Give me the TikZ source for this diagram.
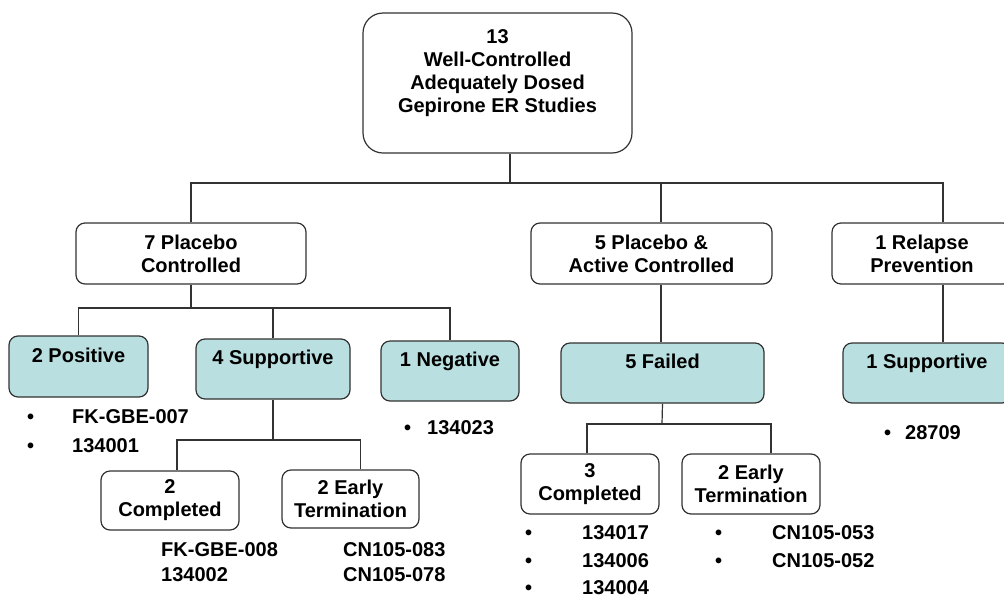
\documentclass[tikz,border=0pt]{standalone}
\usepackage{fontspec}
\setmainfont{Liberation Sans}
\definecolor{tealfill}{RGB}{185,223,224}
\definecolor{edge}{RGB}{50,50,50}
\newcommand{\itm}[2]{\makebox[#1][l]{\textbullet}#2}

\begin{document}
\begin{tikzpicture}[x=1pt,y=-1pt,
  box/.style={draw=edge, line width=1.2pt, rounded corners=9pt, fill=white, align=center, inner sep=0pt, font=\fontsize{20}{23}\selectfont\bfseries},
  shaded/.style={box, fill=tealfill},
  item/.style={anchor=west, inner sep=0pt, font=\fontsize{20}{23}\selectfont\bfseries},
  link/.style={draw=edge, line width=1.2pt}]
  \useasboundingbox (0,0) rectangle (1004,598);
  \clip (0,0) rectangle (1004,598);

  % top
  \node[box, rounded corners=20pt, minimum width=269pt, minimum height=140pt] (root) at (497.5,83) {13\\Well-Controlled\\Adequately Dosed\\Gepirone ER Studies\\ ~};

  % first level
  \node[box, minimum width=230pt, minimum height=61pt] (pc) at (191,253.5) {7 Placebo\\Controlled};
  \node[box, minimum width=241pt, minimum height=61pt] (pac) at (651.5,253.5) {5 Placebo \&\\Active Controlled};
  \node[box, minimum width=180pt, minimum height=61pt] (rp) at (922,253.5) {1 Relapse\\Prevention};

  % outcomes
  \node[shaded, minimum width=139pt, minimum height=61pt] (pos) at (78.5,366.5) {2 Positive\\ ~};
  \node[shaded, minimum width=154pt, minimum height=60pt] (sup) at (273,369) {4 Supportive\\ ~};
  \node[shaded, minimum width=138pt, minimum height=60pt] (neg) at (450,371) {1 Negative\\ ~};
  \node[shaded, minimum width=203pt, minimum height=60pt] (fail) at (662.5,373) {5 Failed\\ ~};
  \node[shaded, minimum width=168pt, minimum height=60pt] (sup1) at (927,373) {1 Supportive\\ ~};

  % completed / early termination
  \node[box, minimum width=138pt, minimum height=59pt] (comp1) at (170,500.5) {2\\Completed};
  \node[box, minimum width=137pt, minimum height=58pt] (early1) at (350.5,499) {2 Early\\Termination};
  \node[box, minimum width=138pt, minimum height=60pt] (comp2) at (590,484) {3\\Completed};
  \node[box, minimum width=138pt, minimum height=60pt] (early2) at (751,484) {2 Early\\Termination};

  % junctions
  \coordinate (j0) at (510,183);
  \coordinate (c2) at (661,183);
  \coordinate (c3) at (943,183);
  \coordinate (j1) at (192,308);
  \coordinate (j2) at (273,440);
  \coordinate (j3) at (662,424);

  \draw[link] (root.south -| j0) -- (j0);
  \draw[link] (pc.north) |- (c3) -- (c3 |- rp.north);
  \draw[link] (c2) -- (c2 |- pac.north);
  \draw[link] (c2 |- pac.south) -- (c2 |- fail.north);
  \draw[link] (c3 |- rp.south) -- (c3 |- sup1.north);

  \draw[link] (pc.south) -- (pc.south |- j1);
  \draw[link] (pos.north) |- (neg.north |- j1) -- (neg.north);
  \draw[link] (sup.north) -- (sup.north |- j1);
  \draw[link] (sup.south) -- (j2);
  \draw[link] ([xshift=7pt]comp1.north) |- ([xshift=10pt]early1.north |- j2) -- ([xshift=10pt]early1.north);
  \draw[link] (fail.south) -- (j3);
  \draw[link] ([xshift=-3pt]comp2.north) |- ([xshift=20pt]early2.north |- j3) -- ([xshift=20pt]early2.north);

  % study lists
  \node[item] (pos-a) at (27,417) {\itm{45pt}{FK-GBE-007}};
  \node[item] (pos-b) at (27,446) {\itm{45pt}{134001}};
  \node[item] (neg-a) at (404,428) {\itm{23pt}{134023}};
  \node[item] (comp1-a) at (161,550) {FK-GBE-008};
  \node[item] (comp1-b) at (161,575) {134002};
  \node[item] (early1-a) at (343,550) {CN105-083};
  \node[item] (early1-b) at (343,575) {CN105-078};
  \node[item] (comp2-a) at (525,533) {\itm{57pt}{134017}};
  \node[item] (comp2-b) at (525,561) {\itm{57pt}{134006}};
  \node[item] (comp2-c) at (525,588) {\itm{57pt}{134004}};
  \node[item] (early2-a) at (715,533) {\itm{57pt}{CN105-053}};
  \node[item] (early2-b) at (715,561) {\itm{57pt}{CN105-052}};
  \node[item] (sup1-a) at (884,433) {\itm{21pt}{28709}};
\end{tikzpicture}
\end{document}
